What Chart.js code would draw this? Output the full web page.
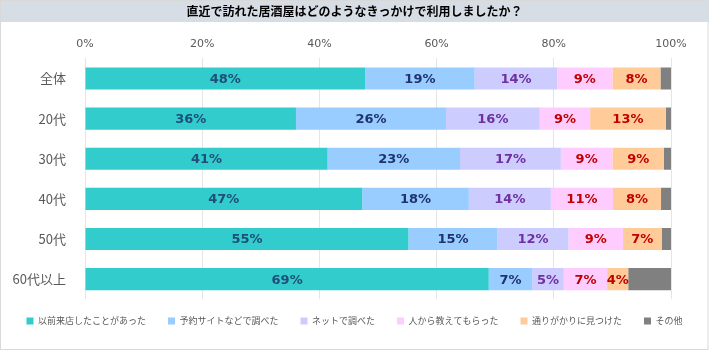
<!DOCTYPE html>
<html lang="ja">
<head>
<meta charset="utf-8">
<title>直近で訪れた居酒屋はどのようなきっかけで利用しましたか？</title>
<script src="https://cdn.jsdelivr.net/npm/chart.js@4/dist/chart.umd.min.js"></script>
<style>
  html, body { margin: 0; padding: 0; background: #ffffff; }
  #wrap { width: 709px; height: 357px; }
</style>
</head>
<body>
<div id="wrap"><canvas id="c" width="709" height="357"></canvas></div>
<script>
const titleText = '直近で訪れた居酒屋はどのようなきっかけで利用しましたか？';
const categories = ['全体', '20代', '30代', '40代', '50代', '60代以上'];
const seriesNames = ['以前来店したことがあった', '予約サイトなどで調べた', 'ネットで調べた', '人から教えてもらった', '通りがかりに見つけた', 'その他'];
const visitedBefore = [47.8, 36.0, 41.4, 47.3, 55.2, 68.9];
const reservationSite = [18.7, 25.6, 22.6, 18.2, 15.2, 7.4];
const internet = [14.1, 16.0, 17.2, 14.0, 12.1, 5.4];
const wordOfMouth = [9.4, 8.6, 8.8, 10.6, 9.3, 7.4];
const passingBy = [8.2, 12.9, 8.8, 8.2, 6.6, 3.6];
const other = [1.8, 0.9, 1.2, 1.7, 1.6, 7.3];
const xTicks = [0, 20, 40, 60, 80, 100];

const seriesValues = [visitedBefore, reservationSite, internet, wordOfMouth, passingBy, other];
const fillColors = ['#33CCCC', '#99CCFF', '#CCCCFF', '#FFCCFF', '#FFCC99', '#808080'];
const labelColors = ['#1F4E79', '#1F3370', '#7030A0', '#C00000', '#C00000', null];

const datasets = seriesNames.map((name, i) => ({
  label: name,
  data: seriesValues[i],
  backgroundColor: fillColors[i],
  borderWidth: 0,
  barPercentage: 0.55,
  categoryPercentage: 1.0
}));

const backdrop = {
  id: 'backdrop',
  beforeDraw(chart) {
    const ctx = chart.ctx;
    ctx.save();
    ctx.fillStyle = '#ffffff';
    ctx.fillRect(0, 0, chart.width, chart.height);
    ctx.fillStyle = '#D7DDE4';
    ctx.fillRect(0, 0, chart.width, 22);
    ctx.strokeStyle = '#D9D9D9';
    ctx.lineWidth = 1;
    ctx.strokeRect(0.5, 0.5, 707.5, 349);
    ctx.restore();
  }
};

const legendShift = {
  id: 'legendShift',
  afterLayout(chart) {
    const l = chart.legend;
    if (l) { l.top -= 4.7; l.bottom -= 4.7; }
  }
};

const segmentLabels = {
  id: 'segmentLabels',
  afterDatasetsDraw(chart) {
    const ctx = chart.ctx;
    ctx.save();
    ctx.font = 'bold 13px "DejaVu Sans", sans-serif';
    ctx.textAlign = 'center';
    ctx.textBaseline = 'middle';
    chart.data.datasets.forEach((ds, di) => {
      const color = labelColors[di];
      if (!color) return;
      const meta = chart.getDatasetMeta(di);
      meta.data.forEach((bar, i) => {
        const v = ds.data[i];
        const cx = (bar.x + bar.base) / 2;
        ctx.fillStyle = color;
        ctx.fillText(Math.round(v) + '%', cx, bar.y + 1);
      });
    });
    ctx.restore();
  }
};

new Chart(document.getElementById('c'), {
  type: 'bar',
  data: { labels: categories, datasets },
  plugins: [backdrop, legendShift, segmentLabels],
  options: {
    responsive: false,
    animation: false,
    indexAxis: 'y',
    layout: { padding: { left: 0, right: 0, top: 0, bottom: 16.8 } },
    scales: {
      x: {
        position: 'top',
        stacked: true,
        min: 0,
        max: 100,
        afterBuildTicks(scale) { scale.ticks = xTicks.map(v => ({ value: v })); },
        afterFit(scale) { scale.height = 36; scale.paddingRight = 38; scale.paddingLeft = 0; },
        ticks: {
          padding: 8,
          color: '#595959',
          font: { family: '"DejaVu Sans", sans-serif', size: 11 },
          callback: v => v + '%'
        },
        grid: { color: '#E5E5E5', lineWidth: 1, drawTicks: false },
        border: { display: false }
      },
      y: {
        stacked: true,
        afterFit(scale) { scale.width = 85; },
        ticks: {
          padding: 11,
          color: '#595959',
          font: { family: '"Noto Sans CJK JP", sans-serif', size: 13 }
        },
        grid: { display: false },
        border: { display: false }
      }
    },
    plugins: {
      title: {
        display: true,
        text: titleText,
        color: '#000000',
        font: { family: '"Noto Sans CJK JP", sans-serif', size: 12, weight: 'bold' },
        padding: { top: 4, bottom: 4 }
      },
      legend: {
        position: 'bottom',
        labels: {
          boxWidth: 7,
          boxHeight: 7,
          padding: 22,
          color: '#595959',
          font: { family: '"Noto Sans CJK JP", sans-serif', size: 9 }
        }
      },
      tooltip: { enabled: false }
    }
  }
});
</script>
</body>
</html>
